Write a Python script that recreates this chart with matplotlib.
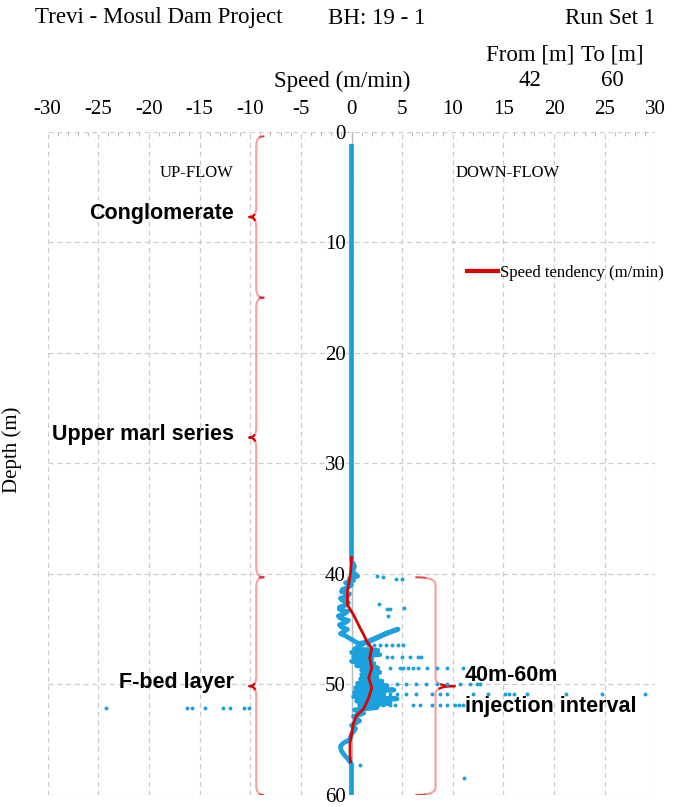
import numpy as np
import matplotlib.pyplot as plt
from matplotlib.lines import Line2D

plt.rcParams['font.family'] = ['Liberation Serif', 'DejaVu Serif']

# ---- data ----
speed_ticks = [-30, -25, -20, -15, -10, -5, 0, 5, 10, 15, 20, 25, 30]
depth_ticks = [0, 10, 20, 30, 40, 50, 60]

# main logged trace (depth m, speed m/min)
trace_depth = [1.3, 38.8, 39.3, 39.8, 40.2, 40.4, 40.6, 40.8, 41.0, 41.2, 41.4, 41.6,
               41.8, 42.0, 42.2, 42.4, 42.6, 42.8, 43.0, 43.2, 43.4, 43.6, 43.8, 44.0,
               44.2, 44.4, 44.6, 44.8, 45.0, 45.2, 45.4, 45.6, 46.3, 46.1, 45.8, 45.5,
               45.2, 45.0, 45.3, 45.7, 46.1, 46.5, 46.8, 46.9, 47.1, 47.3, 47.5, 47.7,
               47.9, 48.1, 48.3, 48.5, 48.7, 48.9, 49.1, 49.3, 49.5, 49.7, 49.9, 50.1,
               50.3, 50.5, 50.7, 50.9, 51.1, 51.3, 51.5, 51.7, 51.9, 52.1, 52.3, 52.6,
               52.9, 53.3, 53.7, 54.0, 54.5, 55.0, 55.3, 55.6, 56.0, 56.4, 56.8, 57.2, 60.0]
trace_speed = [0.0, 0.0, 0.3, 0.1, 0.6, -0.2, 0.2, -0.6, 0.0, -0.3, -0.9, -1.0,
               -0.2, -0.4, -1.1, -0.9, -0.3, -0.5, -1.2, -1.2, -0.4, -0.7, -1.3, -1.1,
               -0.3, -0.6, -1.2, -1.0, -0.4, -0.7, -1.1, -0.6, 0.7, 1.8, 2.5, 3.2,
               4.0, 4.6, 3.6, 2.6, 1.6, 0.8, 0.3, 2.6, 0.0, 2.8, 0.2, 2.0,
               0.0, 2.2, 0.5, 2.6, 1.0, 2.8, 1.0, 2.5, 0.9, 3.0, 0.6, 3.5,
               0.4, 4.2, 0.3, 3.2, 0.2, 4.5, 0.5, 3.8, 0.8, 2.5, 0.3, 1.2,
               0.2, 0.8, 0.0, 0.4, 0.0, -0.2, -0.8, -1.1, -1.0, -0.7, -0.3, 0.0, 0.0]

# scattered readings (depth m, speed m/min)
dot_depth = ([40.2, 40.3, 40.5, 40.5, 42.7, 43.2, 43.2, 43.1, 43.8]
             + [46.4] * 7 + [47.5] * 6 + [48.5] * 10 + [50.0] * 10 + [50.9] * 16
             + [51.9] * 12 + [52.1] * 8 + [58.5, 57.3])
dot_speed = ([2.5, 3.1, 4.4, 5.0, 2.7, 3.5, 3.8, 5.2, 3.6]
             + [1.6, 2.2, 2.8, 3.4, 4.0, 4.6, 5.1]
             + [3.5, 4.0, 5.0, 5.8, 6.6, 6.9]
             + [3.8, 4.8, 5.1, 5.6, 6.1, 6.6, 7.5, 8.4, 9.4, 11.0]
             + [4.5, 5.4, 6.4, 7.4, 8.4, 9.4, 10.7, 11.7, 12.4, 12.7]
             + [3.8, 4.5, 5.4, 6.4, 7.9, 8.7, 9.4, 12.0, 13.5, 15.2, 15.5, 16.0,
                17.3, 21.2, 24.7, 29.0]
             + [2.6, 3.1, 3.8, 4.3, 6.1, 6.8, 7.9, 8.7, 9.4, 10.2, 10.6, 11.0]
             + [-24.2, -16.2, -15.7, -14.5, -12.7, -12.0, -10.6, -10.1]
             + [11.1, 0.8])

# speed tendency
trend_depth = [38.5, 40.0, 41.5, 42.8, 43.7, 44.9, 45.5, 46.1, 46.7, 47.6, 48.5, 49.4,
               50.3, 51.2, 52.2, 52.8, 53.5, 54.5, 55.3, 56.2, 57.0]
trend_speed = [0.0, -0.1, -0.4, -0.4, 0.2, 0.85, 1.2, 1.5, 2.0, 1.8, 2.0, 1.7,
               2.0, 1.7, 1.2, 0.5, 0.2, 0.0, -0.15, -0.15, -0.1]

# geological units (top, bottom, label)
layer_tops = [0.4, 15.0, 40.3]
layer_bots = [15.0, 40.3, 60.0]
layer_names = ['Conglomerate', 'Upper marl series', 'F-bed layer']
inj_from, inj_to = 40.3, 60.0

BLUE = '#1ba1dd'
RED = '#e00000'
PINK = '#f6a3a3'


def bezier(p0, c, p1, n=12):
    t = np.linspace(0, 1, n)[:, None]
    return (1 - t) ** 2 * np.array(p0) + 2 * (1 - t) * t * np.array(c) + t ** 2 * np.array(p1)


def brace(ax, x, d0, d1, w, r=0.9):
    # w < 0 -> tip points left, w > 0 -> tip points right
    dm = (d0 + d1) / 2
    top = bezier((x - w, d0), (x, d0), (x, d0 + r))
    tip1 = bezier((x, dm - r), (x, dm), (x + w, dm))
    tip2 = bezier((x + w, dm), (x, dm), (x, dm + r))
    bot = bezier((x, d1 - r), (x, d1), (x - w, d1))
    pts = np.vstack([top, tip1, tip2, bot])
    ax.plot(pts[:, 0], pts[:, 1], color=PINK, lw=1.6, zorder=3)
    tip = np.vstack([tip1[6:], tip2[:7]])
    ax.plot(tip[:, 0], tip[:, 1], color=RED, lw=1.6, zorder=4)
    ax.plot(top[:4, 0], top[:4, 1], color=RED, lw=1.2, alpha=0.6, zorder=4)
    ax.plot(bot[-4:, 0], bot[-4:, 1], color=RED, lw=1.2, alpha=0.6, zorder=4)


fig = plt.figure(figsize=(6.73, 8.07), dpi=100)
ax = fig.add_axes([0.0707, 0.0149, 0.9032, 0.8216])

ax.set_xlim(-30, 30)
ax.set_ylim(60, 0)
ax.set_xticks(speed_ticks)
ax.set_xticklabels([str(v) for v in speed_ticks])
ax.set_xticks(np.arange(-30, 31, 1), minor=True)
ax.set_yticks(depth_ticks)
ax.set_yticklabels([str(v) for v in depth_ticks])
ax.xaxis.tick_top()
ax.tick_params(axis='x', which='major', length=0, pad=9, labelsize=15)
ax.tick_params(axis='x', which='minor', length=3, direction='in', color='#bbbbbb', width=0.7)
ax.spines['left'].set_position(('data', 0))
ax.tick_params(axis='y', length=0, pad=4, labelsize=15)
for s in ['top', 'right', 'bottom', 'left']:
    ax.spines[s].set_visible(False)
ax.grid(True, color='#cccccc', lw=0.9, linestyle=(0, (4, 3)))
ax.set_axisbelow(True)
ax.axvline(0, color='#bbbbbb', lw=1, zorder=1)

ax.set_ylabel('Depth (m)', fontsize=15)
ax.yaxis.set_label_coords(-0.042, 0.52)

# data
ax.plot(trace_speed, trace_depth, color=BLUE, lw=3.4, solid_joinstyle='round', zorder=5)
ax.scatter(dot_speed, dot_depth, s=8, color=BLUE, zorder=5, linewidths=0)
ax.plot(trend_speed, trend_depth, color=RED, lw=2, zorder=6)

# braces
for top, bot in zip(layer_tops, layer_bots):
    brace(ax, -9.4, top, bot, -0.7)
brace(ax, 8.3, inj_from, inj_to, 1.9, r=0.7)

# labels
bold = dict(family=['Liberation Sans', 'DejaVu Sans'], fontweight='bold', fontsize=15.5)
for top, bot, name in zip(layer_tops, layer_bots, layer_names):
    ax.text(-11.6, (top + bot) / 2 - 0.3, name, ha='right', va='center', **bold)
ax.text(11.2, 49.2, '40m-60m', ha='left', va='center', **bold)
ax.text(11.2, 52.0, 'injection interval', ha='left', va='center', **bold)
ax.text(-15.3, 3.7, 'UP-FLOW', ha='center', va='center', fontsize=12)
ax.text(15.4, 3.7, 'DOWN-FLOW', ha='center', va='center', fontsize=12)

leg = ax.legend(handles=[Line2D([], [], color=RED, lw=3)], labels=['Speed tendency (m/min)'],
                loc='center left', bbox_to_anchor=(0.665, 0.787), frameon=False,
                handlelength=1.9, handletextpad=0.1, fontsize=12)

# header
fig.text(35 / 673, 1 - 18 / 807, 'Trevi - Mosul Dam Project', ha='left', va='center', fontsize=16.5)
fig.text(377 / 673, 1 - 18 / 807, 'BH: 19 - 1', ha='center', va='center', fontsize=16.5)
fig.text(655 / 673, 1 - 18 / 807, 'Run Set 1', ha='right', va='center', fontsize=16.5)
fig.text(530 / 673, 1 - 55 / 807, 'From [m]', ha='center', va='center', fontsize=16.5)
fig.text(612 / 673, 1 - 55 / 807, 'To [m]', ha='center', va='center', fontsize=16.5)
fig.text(342 / 673, 1 - 81 / 807, 'Speed (m/min)', ha='center', va='center', fontsize=16.5)
fig.text(530 / 673, 1 - 81 / 807, str(int(42)), ha='center', va='center', fontsize=16.5)
fig.text(612 / 673, 1 - 81 / 807, str(int(inj_to)), ha='center', va='center', fontsize=16.5)

fig.savefig('out.png', dpi=100, facecolor='white')
